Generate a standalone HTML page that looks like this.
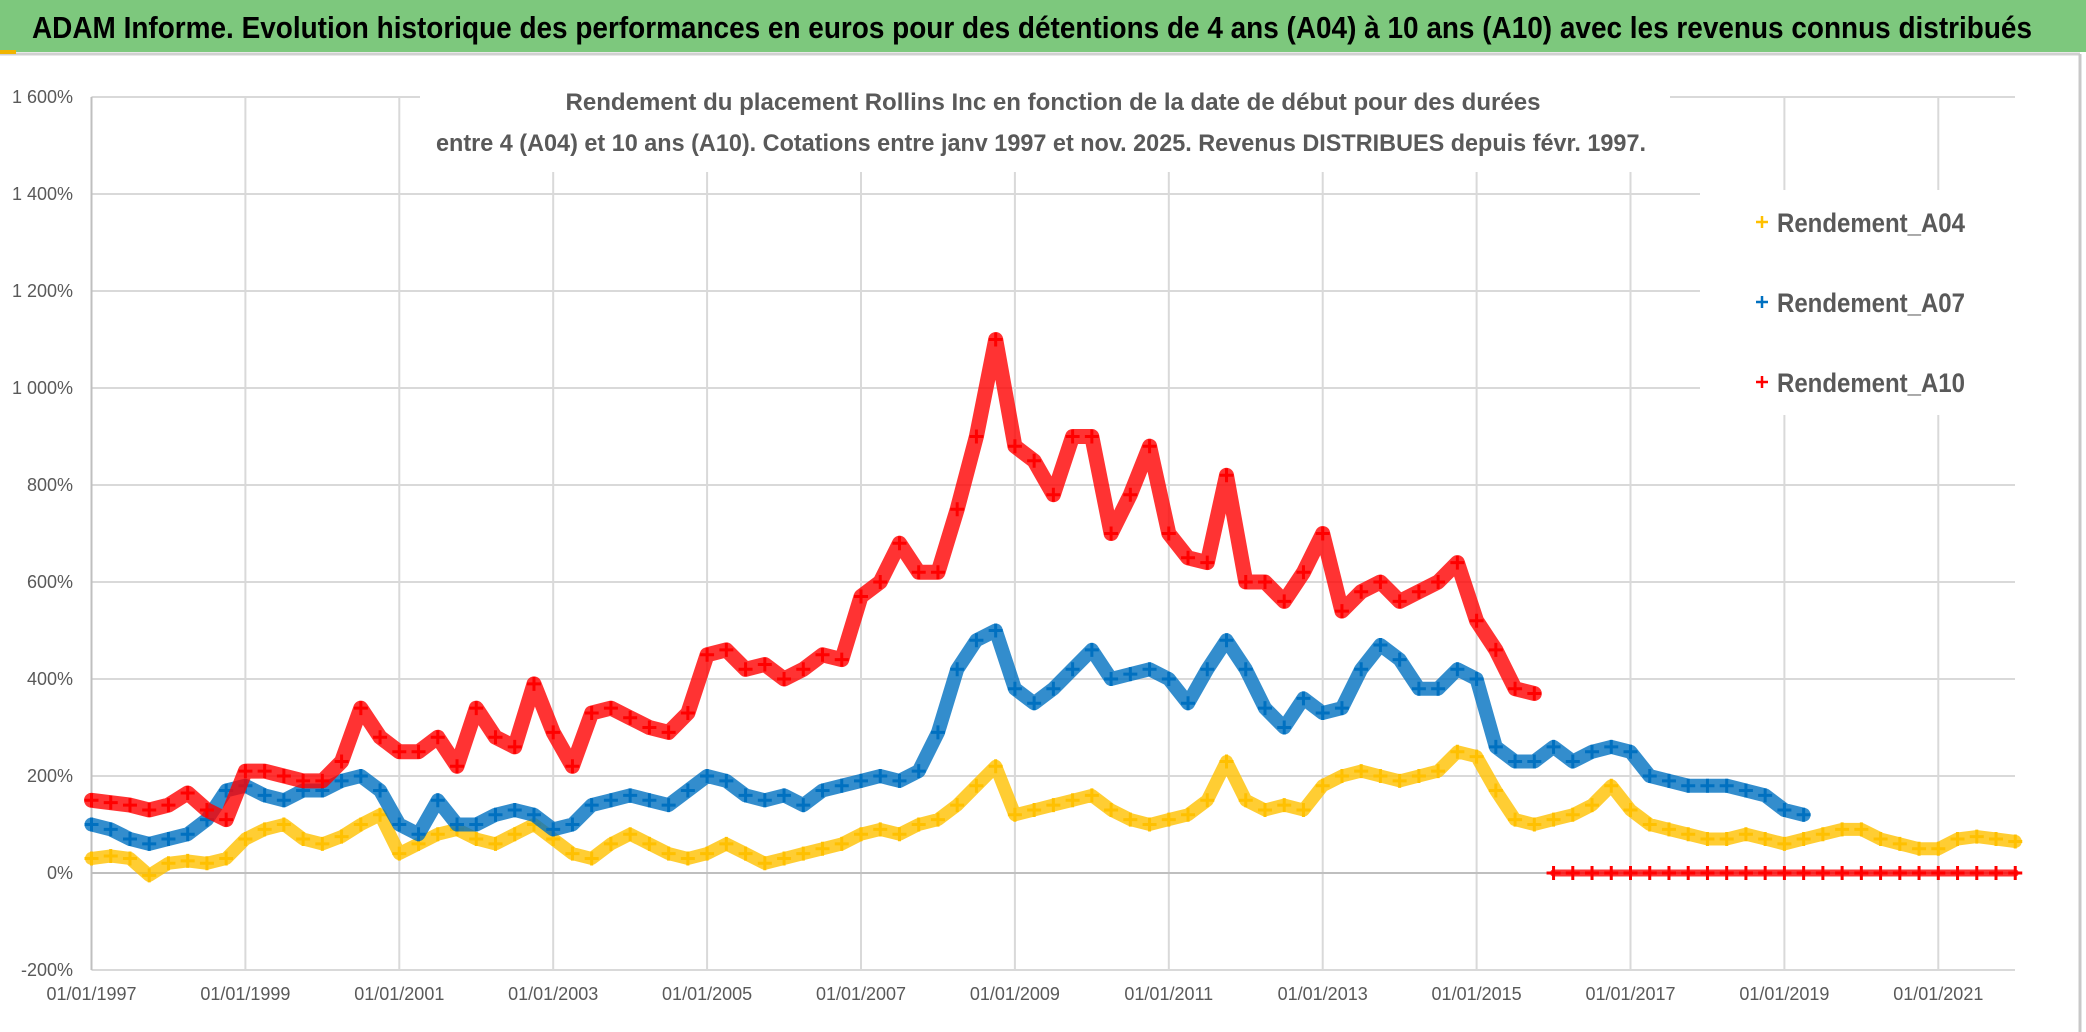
<!DOCTYPE html>
<html><head><meta charset="utf-8"><style>
html,body{margin:0;padding:0;background:#fff}
svg{display:block}
text{font-family:"Liberation Sans",sans-serif}
</style></head><body>
<svg id="chart" width="2086" height="1032" viewBox="0 0 2086 1032" xmlns="http://www.w3.org/2000/svg">
<rect x="0" y="0" width="2086" height="1032" fill="#fff"/>
<rect x="0" y="0" width="2086" height="52" fill="#7dc87d"/>
<text x="32" y="38" font-size="31" font-weight="bold" fill="#000" textLength="2000" lengthAdjust="spacingAndGlyphs">ADAM Informe. Evolution historique des performances en euros pour des détentions de 4 ans (A04) à 10 ans (A10) avec les revenus connus distribués</text>
<line x1="0" y1="54" x2="2080" y2="54" stroke="#d0d0d0" stroke-width="3"/>
<line x1="2080" y1="54" x2="2080" y2="1032" stroke="#c8c8c8" stroke-width="3"/>
<rect x="0" y="50" width="16" height="4" fill="#f0b400"/>
<g id="grid"></g>
<g id="series"></g>
<rect x="420" y="72" width="1250" height="100" fill="#fff"/>
<text x="1053" y="110" font-size="24" font-weight="bold" fill="#595959" text-anchor="middle" textLength="975" lengthAdjust="spacingAndGlyphs">Rendement du placement Rollins Inc en fonction de la date de début pour des durées</text>
<text x="1041" y="151" font-size="24" font-weight="bold" fill="#595959" text-anchor="middle" textLength="1210" lengthAdjust="spacingAndGlyphs">entre 4 (A04) et 10 ans (A10). Cotations entre janv 1997 et nov. 2025. Revenus DISTRIBUES depuis févr. 1997.</text>
<g>
<rect x="1700" y="190" width="315" height="225" fill="#fff"/>
<g><path d="M1756 222h12M1762 216v12" stroke="#ffc000" stroke-width="2.5"/><text x="1777" y="232" font-size="27" font-weight="bold" fill="#595959" textLength="188" lengthAdjust="spacingAndGlyphs">Rendement_A04</text></g>
<g><path d="M1756 302h12M1762 296v12" stroke="#0070c0" stroke-width="2.5"/><text x="1777" y="312" font-size="27" font-weight="bold" fill="#595959" textLength="188" lengthAdjust="spacingAndGlyphs">Rendement_A07</text></g>
<g><path d="M1756 382h12M1762 376v12" stroke="#ff0000" stroke-width="2.5"/><text x="1777" y="392" font-size="27" font-weight="bold" fill="#595959" textLength="188" lengthAdjust="spacingAndGlyphs">Rendement_A10</text></g>
</g>
</svg>
<script>
const yTicks = [-200,0,200,400,600,800,1000,1200,1400,1600];
const yTickLabels = ["-200%","0%","200%","400%","600%","800%","1 000%","1 200%","1 400%","1 600%"];
const xTicks = [1997,1999,2001,2003,2005,2007,2009,2011,2013,2015,2017,2019,2021];
const xTickLabels = ["01/01/1997","01/01/1999","01/01/2001","01/01/2003","01/01/2005","01/01/2007","01/01/2009","01/01/2011","01/01/2013","01/01/2015","01/01/2017","01/01/2019","01/01/2021"];
const a04Start = 1997.0;
const a04 = [30,35,30,-5, 20,25,20,30, 70,90,100,70, 60,75,100,120, 40,60,80,90, 70,60,80,100, 70,40,30,60, 80,60,40,30, 40,60,40,20, 30,40,50,60, 80,90,80,100, 110,140,180,220, 120,130,140,150, 160,130,110,100, 110,120,150,230, 150,130,140,130, 180,200,210,200, 190,200,210,250, 240,170,110,100, 110,120,140,180, 130,100,90,80, 70,70,80,70, 60,70,80,90, 90,70,60,50, 50,70,75,70, 65];
const a07Start = 1997.0;
const a07 = [100,90,70,60, 70,80,110,170, 180,160,150,170, 170,190,200,170, 100,80,150,100, 100,120,130,120, 90,100,140,150, 160,150,140,170, 200,190,160,150, 160,140,170,180, 190,200,190,210, 290,420,480,500, 380,350,380,420, 460,400,410,420, 400,350,420,480, 420,340,300,360, 330,340,420,470, 440,380,380,420, 400,260,230,230, 260,230,250,260, 250,200,190,180, 180,180,170,160, 130,120];
const a10Start = 1997.0;
const a10 = [150,145,140,130, 140,165,130,110, 210,210,200,190, 190,230,340,280, 250,250,280,220, 340,280,260,390, 290,220,330,340, 320,300,290,330, 450,460,420,430, 400,420,450,440, 570,600,680,620, 620,750,900,1100, 880,850,780,900, 900,700,780,880, 700,650,640,820, 600,600,560,620, 700,540,580,600, 560,580,600,640, 520,460,380,370];
const a10ZeroStart = 2016.0;
const a10Zero = [0,0,0,0, 0,0,0,0, 0,0,0,0, 0,0,0,0, 0,0,0,0, 0,0,0,0, 0];
const STEP = 0.25;

const X0 = 91.5, PX_PER_YEAR = 76.95, Y0 = 873, PX_PER_PCT = 776/1600;
const PLOT_L = 91.5, PLOT_R = 2015, PLOT_T = 97, PLOT_B = 970;
function xs(yr){ return X0 + (yr - 1997) * PX_PER_YEAR; }
function ys(v){ return Y0 - v * PX_PER_PCT; }
const NS = "http://www.w3.org/2000/svg";
const grid = document.getElementById('grid');
const series = document.getElementById('series');
function mk(tag, attrs, parent){ const e = document.createElementNS(NS, tag); for (const k in attrs) e.setAttribute(k, attrs[k]); parent.appendChild(e); return e; }

yTicks.forEach((t, i) => {
  const l = mk('line', {x1: PLOT_L, x2: PLOT_R, y1: ys(t), y2: ys(t), stroke: '#d9d9d9', 'stroke-width': 2}, grid);
  
  
  const tx = mk('text', {x: 73, y: ys(t) + 6, 'font-size': 18, fill: '#595959', 'text-anchor': 'end'}, grid);
  tx.textContent = yTickLabels[i];
  
  
});
xTicks.forEach((t, i) => {
  const l = mk('line', {x1: xs(t), x2: xs(t), y1: PLOT_T, y2: PLOT_B, stroke: '#d9d9d9', 'stroke-width': 2}, grid);
  
  
  const tx = mk('text', {x: xs(t), y: 1000, 'font-size': 18, fill: '#595959', 'text-anchor': 'middle'}, grid);
  tx.textContent = xTickLabels[i];
  
  
});
mk('line', {x1: PLOT_L, x2: PLOT_L, y1: PLOT_T, y2: PLOT_B, stroke: '#bfbfbf', 'stroke-width': 2}, grid);
mk('line', {x1: PLOT_L, x2: PLOT_R, y1: ys(0), y2: ys(0), stroke: '#bfbfbf', 'stroke-width': 2}, grid);

function drawSeries(vals, start, color, name, band){
  const g = mk('g', {}, series);
  
  
  const pts = vals.map((v, i) => xs(start + i * STEP).toFixed(1) + ',' + ys(v).toFixed(1)).join(' ');
  const pl = mk('polyline', {points: pts, fill: 'none', stroke: color, 'stroke-width': band, 'stroke-opacity': 0.8, 'stroke-linejoin': 'round', 'stroke-linecap': 'round'}, g);
  
  
  vals.forEach((v, i) => {
    const x = xs(start + i * STEP), y = ys(v);
    const p = mk('path', {d: `M${x-7} ${y}h14M${x} ${y-7}v14`, stroke: color, 'stroke-width': 3}, g);
    
    
  });
}
drawSeries(a04, a04Start, '#ffc000', 'series-a04', 13);
drawSeries(a07, a07Start, '#0070c0', 'series-a07', 14);
drawSeries(a10, a10Start, '#ff0000', 'series-a10', 15);
drawSeries(a10Zero, a10ZeroStart, '#ff0000', 'series-a10-zero', 7);
</script>
</body></html>
